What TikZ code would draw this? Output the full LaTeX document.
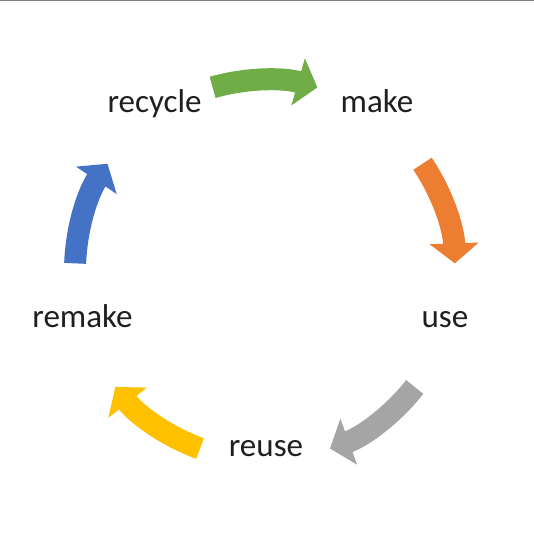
\documentclass[tikz,border=0pt]{standalone}
\usepackage{fontspec}
\setmainfont{Carlito}
\usetikzlibrary{arrows.meta}
\definecolor{ofgreen}{HTML}{70AD47}
\definecolor{oforange}{HTML}{ED7D31}
\definecolor{ofgray}{HTML}{A5A5A5}
\definecolor{ofgold}{HTML}{FFC000}
\definecolor{ofblue}{HTML}{4472C4}

\begin{document}
\begin{tikzpicture}[
  x=0.02cm, y=0.02cm,
  word/.style={anchor=base, text=black!88,
               font=\fontsize{18.8}{22}\selectfont},
  curl/.style={line width=0.44cm,
               -{Triangle[width=0.96cm, length=0.4cm]}}
]
  \def\r{3.8cm}
  \useasboundingbox (0,0) rectangle (534,534);
  \fill[white] (0,0) rectangle (534,534);
  \draw[black!50, line width=0.03cm] (0,533.4) -- (534,533.4);
  \coordinate (ctr) at (265,264);
  % labels round the cycle
  \node[word] (recycle) at (154.5,421) {recycle};
  \node[word] (make) at (377,421) {make};
  \node[word] (use) at (445,206) {use};
  \node[word] (reuse) at (266,77) {reuse};
  \node[word] (remake) at (82.5,206) {remake};
  % curved block arrows, one between each pair of labels
  \foreach \a/\col in {106/ofgreen, 34/oforange, -38/ofgray,
                       -110/ofgold, -182/ofblue}
    \draw[curl, \col] ([shift={(\a:\r)}]ctr)
      arc[start angle=\a, end angle=\a-32, radius=\r];
\end{tikzpicture}
\end{document}
